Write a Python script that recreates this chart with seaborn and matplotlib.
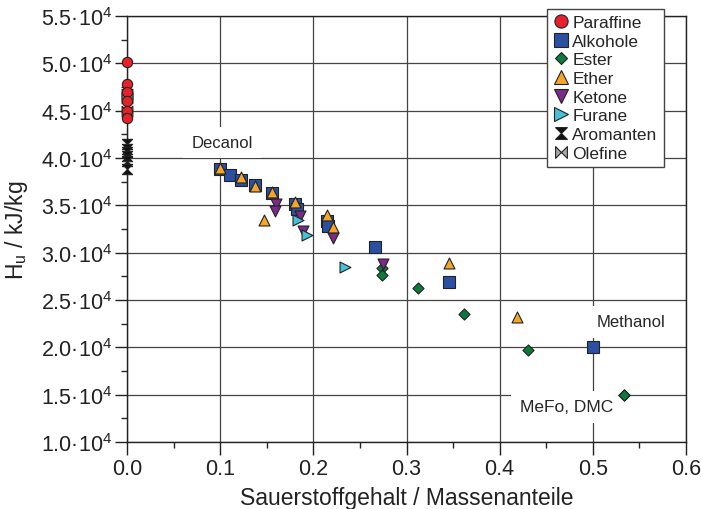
import numpy as np
import pandas as pd
import matplotlib
matplotlib.use("Agg")
import matplotlib.pyplot as plt
import seaborn as sns
from matplotlib.ticker import MultipleLocator, FuncFormatter
from matplotlib.lines import Line2D

# ---- data ----
paraffine_x = [0, 0, 0, 0, 0, 0]
paraffine_y = [50100, 47800, 47000, 46000, 45000, 44200]

olefine_x = [0, 0, 0]
olefine_y = [46800, 46300, 45000]

aromanten_x = [0, 0, 0, 0, 0, 0]
aromanten_y = [41500, 41000, 40600, 40200, 39700, 38800]

alkohole_x = [0.100, 0.111, 0.122, 0.137, 0.156, 0.180, 0.182, 0.215, 0.216, 0.266, 0.346, 0.500]
alkohole_y = [38800, 38200, 37700, 37100, 36300, 35100, 34600, 33300, 32800, 30600, 26900, 20000]

ether_x = [0.100, 0.122, 0.137, 0.156, 0.147, 0.180, 0.215, 0.221, 0.346, 0.419]
ether_y = [38900, 38000, 37000, 36400, 33400, 35300, 34000, 32700, 28900, 23200]

ketone_x = [0.160, 0.159, 0.186, 0.189, 0.221, 0.275]
ketone_y = [35100, 34400, 33900, 32300, 31600, 28800]

furane_x = [0.184, 0.193, 0.234]
furane_y = [33400, 31900, 28500]

ester_x = [0.274, 0.274, 0.312, 0.362, 0.430, 0.533, 0.533]
ester_y = [28400, 27600, 26300, 23500, 19700, 15000, 15000]

labels = ["Paraffine", "Alkohole", "Ester", "Ether", "Ketone", "Furane", "Aromanten", "Olefine"]

# ---- style ----
sns.set_style("white")
plt.rcParams["font.family"] = ["Liberation Sans", "DejaVu Sans"]
plt.rcParams["mathtext.fontset"] = "custom"
plt.rcParams["mathtext.rm"] = "Liberation Sans"
plt.rcParams["mathtext.it"] = "Liberation Sans:italic"

hourglass = [(-1, 1), (1, 1), (-1, -1), (1, -1), (-1, 1)]
bowtie = [(-1, 1), (-1, -1), (1, 1), (1, -1), (-1, 1)]

styles = {
    "Paraffine": dict(color="#e8202a", marker="o", s=55),
    "Alkohole": dict(color="#2b50a2", marker="s", s=80),
    "Ester": dict(color="#0b7a3b", marker="D", s=32),
    "Ether": dict(color="#f5a52a", marker="^", s=62),
    "Ketone": dict(color="#7a2a88", marker="v", s=62),
    "Furane": dict(color="#46c1d8", marker=">", s=62),
    "Aromanten": dict(color="#111111", marker=hourglass, s=55),
    "Olefine": dict(color="#a8a8a8", marker=bowtie, s=60),
}

data = {
    "Paraffine": (paraffine_x, paraffine_y),
    "Olefine": (olefine_x, olefine_y),
    "Aromanten": (aromanten_x, aromanten_y),
    "Alkohole": (alkohole_x, alkohole_y),
    "Ester": (ester_x, ester_y),
    "Ether": (ether_x, ether_y),
    "Ketone": (ketone_x, ketone_y),
    "Furane": (furane_x, furane_y),
}

fig = plt.figure(figsize=(7.01, 5.10), dpi=100)
ax = fig.add_axes([0.1812, 0.1314, 0.7974, 0.8353])

draw_order = ["Olefine", "Paraffine", "Aromanten", "Alkohole", "Ester", "Ketone", "Furane", "Ether"]
for name in draw_order:
    xs, ys = data[name]
    st = styles[name]
    df = pd.DataFrame({"x": xs, "y": ys})
    sns.scatterplot(data=df, x="x", y="y", ax=ax, color=st["color"], marker=st["marker"],
                    s=st["s"], edgecolor="#222222", linewidth=0.8, zorder=3, legend=False,
                    clip_on=False)

ax.set_xlim(0, 0.6)
ax.set_ylim(10000, 55000)
ax.xaxis.set_major_locator(MultipleLocator(0.1))
ax.xaxis.set_minor_locator(MultipleLocator(0.05))
ax.yaxis.set_major_locator(MultipleLocator(5000))
ax.yaxis.set_minor_locator(MultipleLocator(2500))
ax.xaxis.set_major_formatter(FuncFormatter(lambda v, p: f"{v:.1f}"))
ax.yaxis.set_major_formatter(FuncFormatter(lambda v, p: f"{v/1e4:.1f}·10$\\mathregular{{^4}}$"))
ax.tick_params(axis="both", which="major", direction="out", length=9, width=1, labelsize=15.5,
               colors="#222222", bottom=True, left=True)
ax.tick_params(axis="x", which="major", pad=2.5)
ax.tick_params(axis="y", which="major", pad=2)
ax.tick_params(axis="both", which="minor", direction="out", length=4.5, width=1,
               bottom=True, left=True)
ax.grid(True, which="major", color="#444444", linewidth=0.9)
ax.set_axisbelow(True)
for sp in ax.spines.values():
    sp.set_color("#222222")
    sp.set_linewidth(1.0)

ax.set_xlabel("Sauerstoffgehalt / Massenanteile", fontsize=16.5, color="#222222", labelpad=5)
ax.set_ylabel("H$_\\mathregular{u}$ / kJ/kg", fontsize=16.5, color="#222222", labelpad=8)

bbox = dict(facecolor="white", edgecolor="none", pad=6)
ax.text(0.102, 41650, "Decanol", fontsize=12, ha="center", va="center", bbox=bbox, zorder=2)
ax.text(0.541, 22700, "Methanol", fontsize=12, ha="center", va="center", bbox=bbox, zorder=2)
ax.text(0.4716, 13700, "MeFo, DMC", fontsize=12.5, ha="center", va="center", bbox=bbox, zorder=2)

handles = []
for name in labels:
    st = styles[name]
    ms = {"o": 9.5, "s": 9.5, "D": 6.5, "^": 9.5, "v": 9.5, ">": 9.5}.get(
        st["marker"] if isinstance(st["marker"], str) else "x", 8.5)
    handles.append(Line2D([], [], linestyle="none", marker=st["marker"], markersize=ms,
                          markerfacecolor=st["color"], markeredgecolor="#222222",
                          markeredgewidth=0.8, label=name))
leg = fig.legend(handles=handles, loc="upper left", bbox_to_anchor=(547 / 701, 1 - 10 / 510),
                 frameon=True, fancybox=False, framealpha=1, edgecolor="#444444",
                 fontsize=12.5, handlelength=0.9, handletextpad=0.2, labelspacing=0.2,
                 borderpad=0.35, borderaxespad=0)
leg.get_frame().set_linewidth(1.0)

fig.savefig("out.png", dpi=100)
